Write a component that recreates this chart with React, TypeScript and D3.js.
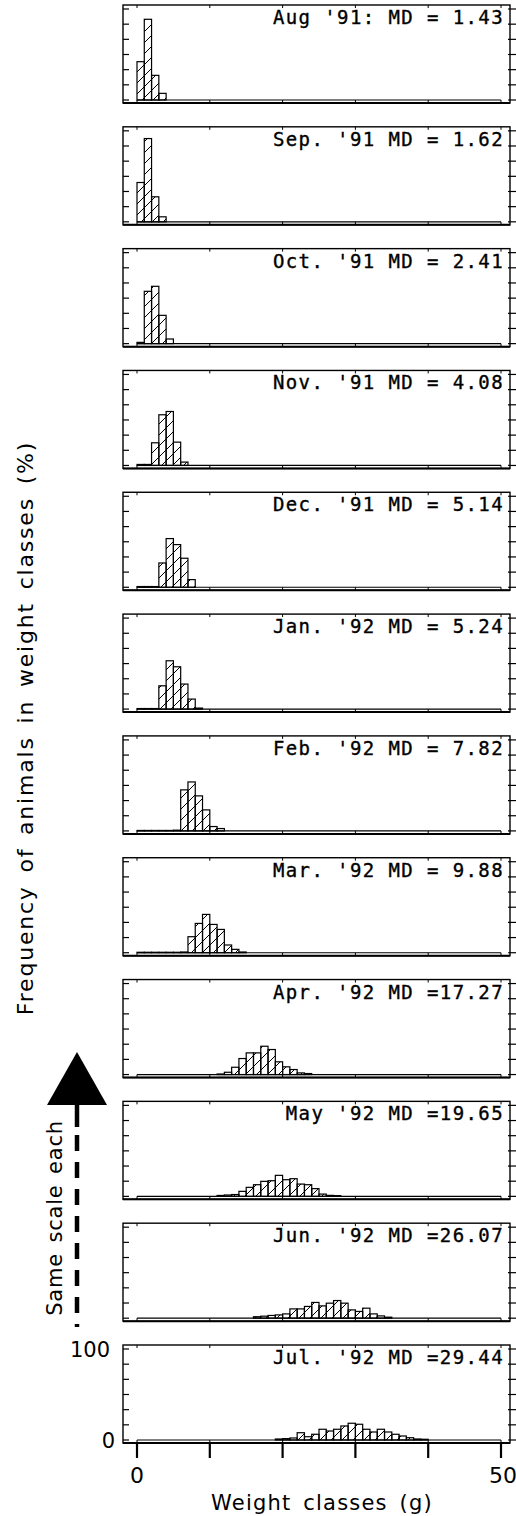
import React from "react";
import * as d3 from "d3";

// ---- data ----
const monthLabels = ["Aug '91:", "Sep. '91", "Oct. '91", "Nov. '91", "Dec. '91", "Jan. '92", "Feb. '92", "Mar. '92", "Apr. '92", "May '92", "Jun. '92", "Jul. '92"];
const mdValues = [1.43, 1.62, 2.41, 4.08, 5.14, 5.24, 7.82, 9.88, 17.27, 19.65, 26.07, 29.44];
// first weight class (g) of each histogram, classes are 1 g wide
const startClass = [0, 0, 0, 0, 0, 0, 0, 0, 11, 11, 16, 19];
const augFreq = [42.1, 88.7, 27.1, 7.3];
const sepFreq = [43.2, 91.5, 27.5, 5.5];
const octFreq = [1.4, 57.5, 63.0, 31.1, 5.1];
const novFreq = [1.1, 1.1, 24.9, 55.7, 59.3, 25.6, 3.7];
const decFreq = [0.8, 0.8, 0.8, 26.7, 53.5, 46.9, 31.9, 8.4];
const janFreq = [0.6, 0.6, 0.6, 25.6, 53.1, 46.5, 27.5, 11.0, 1.1];
const febFreq = [0.5, 0.5, 0.5, 0.5, 0.5, 0.8, 45.1, 53.8, 38.5, 23.1, 4.8, 2.6];
const marFreq = [0.5, 0.5, 0.5, 0.5, 0.5, 0.5, 0.8, 17.6, 32.2, 42.1, 31.1, 25.6, 8.5, 3.7, 0.8];
const aprFreq = [0.6, 2.5, 8.0, 17.6, 23.8, 23.8, 31.1, 27.5, 14.0, 8.5, 5.5, 1.8, 1.1];
const mayFreq = [1.0, 1.5, 2.0, 5.5, 9.9, 12.8, 16.5, 17.2, 23.1, 18.3, 19.4, 13.5, 12.8, 8.5, 2.5, 1.1, 0.8];
const junFreq = [1.6, 2.2, 3.0, 3.6, 4.7, 10.2, 10.2, 12.9, 17.3, 13.5, 16.5, 19.4, 16.5, 9.1, 7.4, 11.0, 4.7, 2.5, 1.1];
const julFreq = [1.1, 1.5, 2.2, 8.0, 3.6, 6.3, 11.8, 9.9, 11.8, 15.4, 18.4, 17.3, 11.8, 8.8, 11.8, 8.8, 6.3, 4.4, 2.5, 1.1, 0.8];
const allFreq = [augFreq, sepFreq, octFreq, novFreq, decFreq, janFreq, febFreq, marFreq, aprFreq, mayFreq, junFreq, julFreq];

const xDomain = [0, 50];
const xTicks = [0, 10, 20, 30, 40, 50];
const xTickLabels = [0, 50];
const yDomain = [0, 100];
const yTicks = [0, 100 / 6, 200 / 6, 50, 400 / 6, 500 / 6, 100];
const yTickLabels = [0, 100];
const xTitle = "Weight classes (g)";
const yTitle = "Frequency of animals in weight classes (%)";
const arrowText = "Same scale each";

export default function App() {
  const W = 516, H = 1516;
  const x = d3.scaleLinear().domain(xDomain).range([137, 501]);
  const panelTop = d3.scaleLinear().domain([0, 11]).range([5, 1345]);
  const frameL = 123, frameR = 510, frameH = 98;
  const sans = "'DejaVu Sans', sans-serif";
  const mono = "'DejaVu Sans Mono', monospace";

  const panels = allFreq.map((freq, i) => {
    const top = panelTop(i);
    const base = top + 95;
    const y = d3.scaleLinear().domain(yDomain).range([base, base - 91]);
    const label = `${monthLabels[i]} MD =${mdValues[i].toFixed(2).padStart(5, " ")}`;
    const last = i === allFreq.length - 1;
    return (
      <g key={i}>
        <rect x={frameL} y={top} width={frameR - frameL} height={frameH} fill="none" stroke="#000" strokeWidth={1.4} />
        <line x1={frameL} x2={frameR} y1={top + frameH} y2={top + frameH} stroke="#000" strokeWidth={2} />
        {yTicks.map((t, k) => (
          <g key={k}>
            <line x1={frameL} x2={frameL + 6} y1={y(t)} y2={y(t)} stroke="#000" strokeWidth={1.2} />
            <line x1={frameR - 2} x2={frameR + 6} y1={y(t)} y2={y(t)} stroke="#000" strokeWidth={1.2} />
          </g>
        ))}
        {xTicks.map((t, k) => (
          <g key={k}>
            <line x1={x(t)} x2={x(t)} y1={top} y2={top + 3} stroke="#000" strokeWidth={1} />
            <line x1={x(t)} x2={x(t)} y1={top + frameH - 3} y2={top + frameH} stroke="#000" strokeWidth={1} />
          </g>
        ))}
        <line x1={x(0)} x2={x(50)} y1={base} y2={base} stroke="#000" strokeWidth={1.2} />
        {freq.map((v, k) => {
          const c = startClass[i] + k;
          return (
            <rect key={k} x={x(c)} y={y(v)} width={x(c + 1) - x(c)} height={base - y(v)}
              fill="url(#hatch)" stroke="#000" strokeWidth={1.2} />
          );
        })}
        <text x={504} y={top + 19} textAnchor="end" fontFamily={mono} fontSize={19}
          letterSpacing={1.4} stroke="#000" strokeWidth={0.35} style={{ whiteSpace: "pre" }} fill="#000">{label}</text>
        {last && (
          <g>
            {xTicks.map((t, k) => (
              <line key={k} x1={x(t)} x2={x(t)} y1={top + frameH} y2={top + frameH + 15} stroke="#000" strokeWidth={2.2} />
            ))}
            {xTickLabels.map((t, k) => (
              <text key={k} x={x(t) + (t === 50 ? 2 : 0)} y={top + frameH + 40} textAnchor="middle" fontFamily={sans} fontSize={22} fill="#000">{t}</text>
            ))}
            {yTickLabels.map((t, k) => (
              <text key={k} x={t === 0 ? 115 : 110} y={y(t) + 8} textAnchor="end" fontFamily={sans} fontSize={21} fill="#000">{t}</text>
            ))}
          </g>
        )}
      </g>
    );
  });

  const arrowX = 77;
  const arrowBase = 1105;
  const arrowBottom = 1327;

  return (
    <svg width={W} height={H} style={{ position: "absolute", left: 0, top: 0, background: "#fff" }}>
      <defs>
        <pattern id="hatch" patternUnits="userSpaceOnUse" width={11} height={11}>
          <path d="M0,11 L11,0 M-2,2 L2,-2 M9,13 L13,9" stroke="#000" strokeWidth={1} />
        </pattern>
      </defs>
      <rect x={0} y={0} width={W} height={H} fill="#fff" />
      {panels}
      <text x={322} y={1510} textAnchor="middle" fontFamily={sans} fontSize={21} letterSpacing={1.2} wordSpacing={4} fill="#000">{xTitle}</text>
      <text transform={`translate(33,728) rotate(-90)`} textAnchor="middle" fontFamily={sans} fontSize={22} letterSpacing={1.8} wordSpacing={4} fill="#000">{yTitle}</text>
      <text transform={`translate(62,1218) rotate(-90)`} textAnchor="middle" fontFamily={sans} fontSize={21} letterSpacing={0.8} wordSpacing={3} fill="#000">{arrowText}</text>
      <path d={`M${arrowX},${arrowBase - 53} L${arrowX + 30},${arrowBase} L${arrowX - 30},${arrowBase} Z`} fill="#000" />
      <line x1={arrowX} x2={arrowX} y1={arrowBase - 2} y2={arrowBase + 22} stroke="#000" strokeWidth={4.5} />
      <line x1={arrowX} x2={arrowX} y1={arrowBase + 30} y2={arrowBottom} stroke="#000" strokeWidth={4.5} strokeDasharray="16 11" />
    </svg>
  );
}
